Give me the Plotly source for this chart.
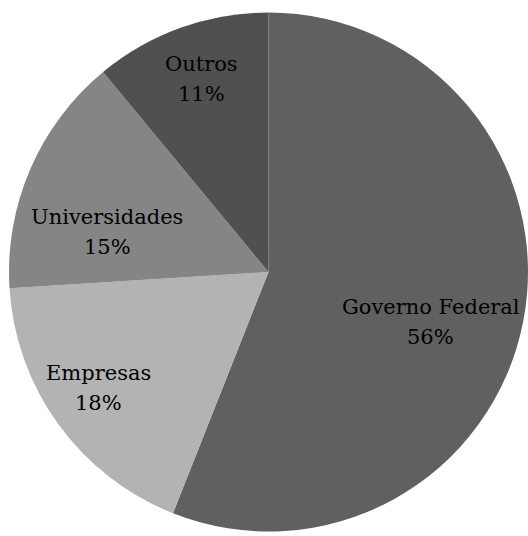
import math
import plotly.graph_objects as go

# Funding share by source (percent)
categories = ["Governo Federal", "Empresas", "Universidades", "Outros"]
shares = [56, 18, 15, 11]

# Slice fills, same order as categories
slice_colors = ["#606060", "#b3b3b3", "#858585", "#505050"]

# Label placement: (fraction of radius, angular nudge in degrees)
label_polar = [(0.653, 6.2), (0.795, 1.7), (0.640, -9.6), (0.787, 0.6)]

W, H = 528, 536
dom_x = [0.017, 1.0]
dom_y = [0.0084, 0.9767]

fig = go.Figure(
    go.Pie(
        labels=categories,
        values=shares,
        sort=False,
        direction="clockwise",
        rotation=0,
        textinfo="none",
        hoverinfo="none",
        marker=dict(colors=slice_colors, line=dict(width=0)),
        domain=dict(x=dom_x, y=dom_y),
        showlegend=False,
    )
)

# Pie geometry in pixels, derived from the domain
dw = (dom_x[1] - dom_x[0]) * W
dh = (dom_y[1] - dom_y[0]) * H
R = min(dw, dh) / 2
cx = (dom_x[0] + dom_x[1]) / 2 * W
cy = (1 - (dom_y[0] + dom_y[1]) / 2) * H

font = dict(family="DejaVu Serif", size=21, color="#000000")
total = sum(shares)
cum = 0
annotations = []
for name, val, (frac, nudge) in zip(categories, shares, label_polar):
    mid = (cum + val / 2) / total * 360
    cum += val
    a = math.radians(mid + nudge)
    px = cx + frac * R * math.sin(a)
    py = cy - frac * R * math.cos(a)
    pct = f"{round(val / total * 100)}%"
    for text, shift in ((name, 15), (pct, -15)):
        annotations.append(
            dict(
                x=px / W,
                y=1 - py / H,
                xref="paper",
                yref="paper",
                text=text,
                showarrow=False,
                xanchor="center",
                yanchor="middle",
                yshift=shift,
                font=font,
            )
        )

fig.update_layout(
    width=W,
    height=H,
    margin=dict(l=0, r=0, t=0, b=0),
    paper_bgcolor="#ffffff",
    plot_bgcolor="#ffffff",
    font=font,
    annotations=annotations,
)

fig.write_html("out.html", config={"displayModeBar": False})
